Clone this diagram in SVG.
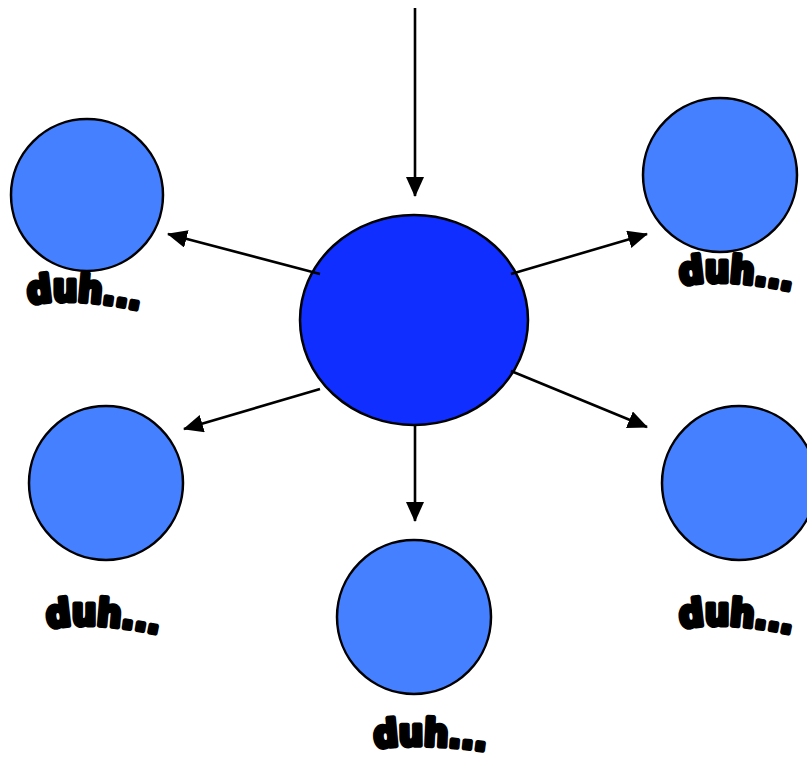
<svg xmlns="http://www.w3.org/2000/svg" width="807" height="761" viewBox="0 0 807 761">
  <style>
    .hub { fill: #0f2eff; stroke: #000; stroke-width: 2.5; }
    .leaf { fill: #4480ff; stroke: #000; stroke-width: 2.5; }
    .link { stroke: #000; stroke-width: 2.6; fill: none; marker-end: url(#tip); }
    .label { font-family: "DejaVu Sans", "Liberation Sans", sans-serif; font-weight: bold; font-size: 37px; fill: #000; stroke: #000; stroke-width: 5; stroke-linejoin: round; }
  </style>
  <defs>
    <marker id="tip" viewBox="0 0 20 18" refX="19" refY="9" markerWidth="20" markerHeight="18" markerUnits="userSpaceOnUse" orient="auto">
      <path d="M0,0 L20,9 L0,18 Z" fill="#000"/>
    </marker>
    <!-- arched baselines for the labels -->
    <path id="arc" d="M2,29 Q 50,20 122,37"/>
    <path id="arc-low" d="M2,28 Q 50,21 122,32"/>
  </defs>

  <g id="center">
    <ellipse class="hub" cx="414" cy="320" rx="114" ry="105"/>
  </g>

  <g id="node-top-left">
    <circle class="leaf" cx="87" cy="195" r="76"/>
    <g transform="translate(27,275)">
      <text class="label"><textPath href="#arc" textLength="112" lengthAdjust="spacingAndGlyphs">duh...</textPath></text>
    </g>
  </g>

  <g id="node-top-right">
    <circle class="leaf" cx="720" cy="175" r="77"/>
    <g transform="translate(679,256)">
      <text class="label"><textPath href="#arc" textLength="112" lengthAdjust="spacingAndGlyphs">duh...</textPath></text>
    </g>
  </g>

  <g id="node-mid-left">
    <circle class="leaf" cx="106" cy="483" r="77"/>
    <g transform="translate(46,599)">
      <text class="label"><textPath href="#arc" textLength="112" lengthAdjust="spacingAndGlyphs">duh...</textPath></text>
    </g>
  </g>

  <g id="node-mid-right">
    <circle class="leaf" cx="739" cy="483" r="77"/>
    <g transform="translate(679,599)">
      <text class="label"><textPath href="#arc" textLength="112" lengthAdjust="spacingAndGlyphs">duh...</textPath></text>
    </g>
  </g>

  <g id="node-bottom">
    <circle class="leaf" cx="414" cy="617" r="77"/>
    <g transform="translate(373,720)">
      <text class="label"><textPath href="#arc-low" textLength="112" lengthAdjust="spacingAndGlyphs">duh...</textPath></text>
    </g>
  </g>

  <g id="connectors">
    <line class="link" x1="415" y1="8" x2="415" y2="196"/>
    <line class="link" x1="320" y1="274" x2="168" y2="234"/>
    <line class="link" x1="511" y1="274" x2="647" y2="234"/>
    <line class="link" x1="320" y1="389" x2="184" y2="429"/>
    <line class="link" x1="511" y1="371" x2="647" y2="427"/>
    <line class="link" x1="415" y1="425" x2="415" y2="521"/>
  </g>
</svg>
